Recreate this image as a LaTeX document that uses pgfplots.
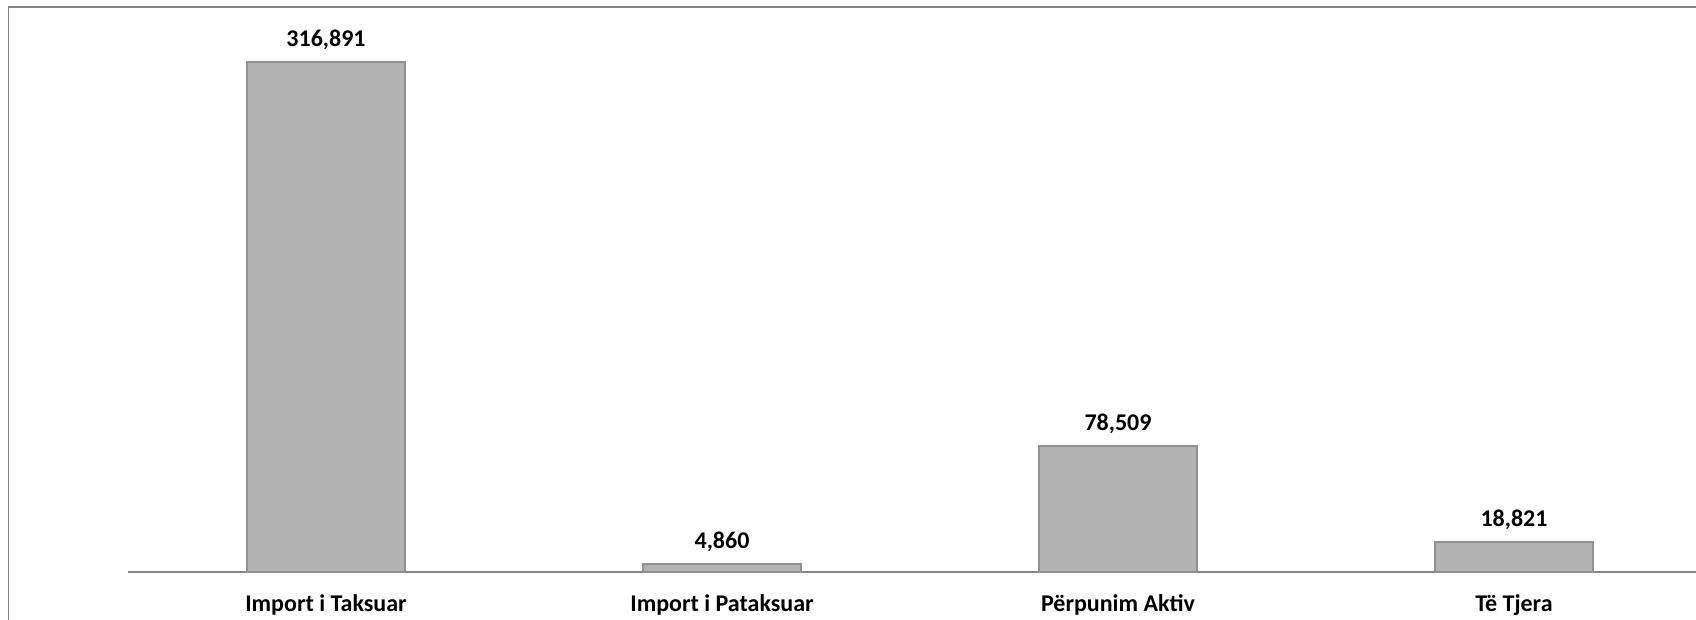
\documentclass[border=0pt]{standalone}
\usepackage{pgfplots}
\pgfplotsset{compat=1.18}
\usepackage{fontspec}
\setmainfont{Carlito}
\definecolor{barfill}{RGB}{178,178,178}
\definecolor{baredge}{RGB}{145,145,145}
\definecolor{framegray}{RGB}{134,134,134}

\begin{document}
\begin{tikzpicture}
\path[use as bounding box] (0,0) rectangle (848pt,310pt);
\clip (0,0) rectangle (848pt,310pt);
% chart frame (cropped on the right and bottom)
\draw[framegray, line width=0.8pt] (4.25pt,-5pt) rectangle (860pt,306.5pt);
\begin{axis}[
    at={(64pt,24pt)}, anchor=south west,
    scale only axis, width=792pt, height=280pt,
    xmin=-0.5, xmax=3.5, ymin=0, ymax=347960,
    hide y axis,
    axis x line*=bottom,
    x axis line style={draw=framegray, line width=0.6pt, -},
    xtick=data,
    xticklabels={Import i Taksuar, Import i Pataksuar, Përpunim Aktiv, Të Tjera},
    major tick length=0pt,
    xticklabel style={anchor=base, yshift=-20pt, font=\fontsize{12}{14}\selectfont\bfseries},
    ybar, bar width=79pt,
    nodes near coords,
    nodes near coords style={anchor=south, inner sep=0pt, yshift=5.5pt,
        font=\fontsize{12}{14}\selectfont\bfseries},
    /pgf/number format/fixed,
    /pgf/number format/precision=0,
    /pgf/number format/1000 sep={,},
    /pgf/number format/assume math mode=true,
    clip=false,
]
\addplot[fill=barfill, draw=baredge, line width=1pt]
    coordinates {(0,316891) (1,4860) (2,78509) (3,18821)};
\end{axis}
\end{tikzpicture}
\end{document}
